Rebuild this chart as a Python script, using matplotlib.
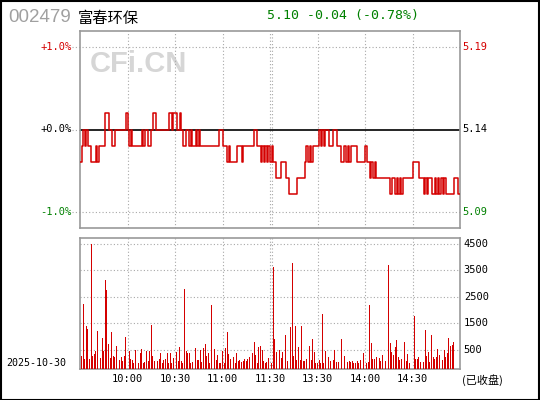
import matplotlib
matplotlib.use("Agg")
import matplotlib.pyplot as plt
import matplotlib.transforms as mtransforms
from matplotlib.patches import Rectangle

# 基本信息
code = "002479"
name = "富春环保"
prev_close = 5.14
quote = "5.10 -0.04 (-0.78%)"
date = "2025-10-30"
status = "(已收盘)"

# 分时价格 (9:30-11:30, 13:01-15:00)
prices = [
    5.12, 5.13, 5.14, 5.13, 5.14, 5.13, 5.13, 5.12, 5.12, 5.12,
    5.13, 5.12, 5.13, 5.13, 5.13, 5.13, 5.15, 5.15, 5.14, 5.14,
    5.13, 5.13, 5.14, 5.14, 5.14, 5.14, 5.14, 5.14, 5.14, 5.15,
    5.14, 5.13, 5.14, 5.13, 5.13, 5.13, 5.13, 5.13, 5.13, 5.14,
    5.13, 5.14, 5.14, 5.13, 5.13, 5.14, 5.15, 5.15, 5.14, 5.14,
    5.14, 5.14, 5.14, 5.14, 5.14, 5.14, 5.15, 5.15, 5.14, 5.15,
    5.15, 5.14, 5.14, 5.15, 5.14, 5.13, 5.13, 5.14, 5.14, 5.13,
    5.14, 5.13, 5.13, 5.14, 5.13, 5.14, 5.13, 5.13, 5.13, 5.13,
    5.13, 5.13, 5.13, 5.13, 5.13, 5.13, 5.13, 5.13, 5.14, 5.14,
    5.13, 5.13, 5.13, 5.12, 5.13, 5.12, 5.12, 5.12, 5.12, 5.13,
    5.13, 5.13, 5.12, 5.13, 5.13, 5.13, 5.13, 5.13, 5.13, 5.13,
    5.14, 5.14, 5.13, 5.13, 5.12, 5.13, 5.12, 5.13, 5.12, 5.13,
    5.12, 5.13, 5.12, 5.12, 5.11, 5.11, 5.11, 5.12, 5.12, 5.12,
    5.11, 5.11, 5.10, 5.10, 5.10, 5.10, 5.10, 5.11, 5.11, 5.11,
    5.11, 5.11, 5.12, 5.13, 5.12, 5.13, 5.12, 5.13, 5.13, 5.13,
    5.13, 5.14, 5.13, 5.14, 5.13, 5.14, 5.14, 5.13, 5.13, 5.13,
    5.14, 5.14, 5.13, 5.13, 5.13, 5.12, 5.12, 5.13, 5.12, 5.13,
    5.12, 5.13, 5.13, 5.13, 5.13, 5.12, 5.12, 5.12, 5.12, 5.12,
    5.13, 5.12, 5.12, 5.11, 5.12, 5.11, 5.12, 5.11, 5.11, 5.11,
    5.11, 5.11, 5.11, 5.11, 5.11, 5.11, 5.10, 5.11, 5.11, 5.10,
    5.11, 5.10, 5.11, 5.10, 5.11, 5.11, 5.11, 5.11, 5.11, 5.11,
    5.12, 5.12, 5.12, 5.12, 5.11, 5.11, 5.11, 5.10, 5.11, 5.10,
    5.11, 5.11, 5.10, 5.10, 5.11, 5.10, 5.11, 5.10, 5.11, 5.10,
    5.11, 5.10, 5.10, 5.10, 5.10, 5.10, 5.11, 5.11, 5.11, 5.10,
    5.10,
]

# 分时成交量 (手), 0 = 无成交柱
volumes = [
    0, 286, 2249, 173, 1418, 1305, 173, 4500, 286, 362,
    475, 1230, 97, 211, 965, 475, 3154, 2777, 739, 211,
    1192, 286, 248, 664, 815, 135, 248, 97, 286, 1003,
    0, 475, 173, 135, 22, 513, 513, 22, 400, 550,
    22, 60, 475, 97, 475, 1456, 286, 97, 362, 97,
    173, 400, 22, 135, 173, 400, 22, 400, 22, 211,
    475, 437, 97, 626, 97, 22, 2815, 475, 400, 400,
    22, 60, 437, 588, 135, 135, 513, 60, 588, 739,
    286, 400, 22, 2211, 513, 550, 135, 324, 22, 22,
    475, 22, 588, 1192, 362, 173, 173, 248, 22, 400,
    97, 135, 60, 97, 173, 97, 173, 248, 324, 400,
    815, 324, 22, 626, 664, 513, 97, 22, 60, 211,
    664, 22, 3645, 928, 437, 0, 513, 211, 437, 0,
    1079, 97, 1230, 1380, 3796, 286, 1418, 135, 626, 135,
    1418, 97, 97, 173, 1531, 664, 135, 928, 437, 22,
    22, 135, 22, 1871, 22, 475, 97, 248, 97, 0,
    135, 513, 60, 60, 0, 928, 0, 286, 135, 60,
    97, 60, 97, 22, 22, 97, 22, 135, 0, 400,
    400, 22, 60, 2211, 777, 173, 173, 248, 0, 211,
    97, 324, 475, 97, 0, 3720, 777, 437, 324, 626,
    890, 248, 135, 173, 0, 815, 97, 362, 22, 0,
    0, 1796, 173, 173, 248, 60, 1682, 60, 1267, 286,
    437, 60, 1079, 248, 173, 248, 550, 324, 135, 135,
    513, 248, 400, 965, 664, 701, 815, 0, 0, 0,
    400,
]

time_ticks = [30, 60, 90, 120, 150, 180, 210]
time_labels = ["10:00", "10:30", "11:00", "11:30", "13:30", "14:00", "14:30"]
pct_levels = [1.0, 0.0, -1.0]
pct_labels = ["+1.0%", "+0.0%", "-1.0%"]
price_labels = ["5.19", "5.14", "5.09"]
level_colors = ["#d40000", "black", "#008000"]
vol_ticks = [500, 1500, 2500, 3500, 4500]

RED = "#d40000"
GRID = "#a8a8a8"
SPINE = "#999999"
MONO = "DejaVu Sans Mono"
CJK = ["Noto Sans CJK SC", "DejaVu Sans"]

pct = [(p / prev_close - 1) * 100 for p in prices]
minutes = list(range(len(prices)))
vol_base = -220

fig = plt.figure(figsize=(5.4, 4.0), dpi=100)
fig.patch.set_facecolor("white")
fig.patches.append(Rectangle((0.001, 0.001), 0.997, 0.997, transform=fig.transFigure,
                             fill=False, edgecolor="black", linewidth=1.5))

ax1 = fig.add_axes([80 / 540, 172 / 400, 380 / 540, 197 / 400])
ax2 = fig.add_axes([80 / 540, 31 / 400, 380 / 540, 131 / 400])

dotted = (0, (1, 2))
grid_lines = time_ticks[:4] + [121.2] + time_ticks[4:]

for ax in (ax1, ax2):
    ax.set_xlim(0, 240)
    ax.set_xticks([])
    ax.set_yticks([])
    for s in ax.spines.values():
        s.set_color(SPINE)
        s.set_linewidth(1.2)
    for g in grid_lines:
        ax.axvline(g, color=GRID, lw=0.8, ls=dotted, zorder=1)

# 价格走势
ax1.set_ylim(-1.194, 1.194)
for lv in [1.0, -1.0]:
    ax1.axhline(lv, xmin=-0.02, xmax=1, color=GRID, lw=0.8, ls=dotted, clip_on=False, zorder=1)
ax1.axhline(0, xmin=-0.02, xmax=0, color=GRID, lw=0.8, ls=dotted, clip_on=False)
ax1.axhline(0, color="black", lw=1.2, zorder=2)
ax1.plot(minutes, pct, color=RED, lw=1.1, drawstyle="steps-post", zorder=3)

tr1 = mtransforms.blended_transform_factory(ax1.transAxes, ax1.transData)
for lv, pl, prl, c in zip(pct_levels, pct_labels, price_labels, level_colors):
    ax1.text(-0.022, lv, pl, transform=tr1, ha="right", va="center",
             color=c, fontsize=7.5, family=MONO)
    ax1.text(1.005, lv, prl, transform=tr1, ha="left", va="center",
             color=c, fontsize=7.5, family=MONO)

ax1.text(0.026, 0.83, "CFi.CN", transform=ax1.transAxes, ha="left", va="center",
         color="#d6d6d6", fontsize=21, fontweight="bold", family="Liberation Sans", zorder=0)

# 成交量
ax2.set_ylim(vol_base, 4727)
for v in vol_ticks:
    ax2.axhline(v, color=GRID, lw=0.8, ls=dotted, zorder=1)
bx = [m for m, v in zip(minutes, volumes) if v > 0]
bh = [v - vol_base for v in volumes if v > 0]
ax2.bar(bx, bh, bottom=vol_base, width=0.62, color=RED, linewidth=0, zorder=3)

tr2 = mtransforms.blended_transform_factory(ax2.transAxes, ax2.transData)
for v in vol_ticks:
    ax2.text(1.01, v, str(v), transform=tr2, ha="left", va="center",
             color="black", fontsize=7.5, family=MONO)

tr2x = mtransforms.blended_transform_factory(ax2.transData, ax2.transAxes)
for t, lab in zip(time_ticks, time_labels):
    ax2.text(t, -0.04, lab, transform=tr2x, ha="center", va="top",
             color="black", fontsize=7.5, family=MONO)

# 标题和其他文字
fig.text(8 / 540, 1 - 18 / 400, code, ha="left", va="center", color="#a0a0a0",
         fontsize=13.5, family="Liberation Sans")
fig.text(78 / 540, 1 - 18 / 400, name, ha="left", va="center", color="black",
         fontsize=11, family=CJK)
fig.text(267 / 540, 1 - 16 / 400, quote, ha="left", va="center", color="#008000",
         fontsize=9.5, family=MONO)
fig.text(6 / 540, 1 - 363 / 400, date, ha="left", va="center", color="black",
         fontsize=7.2, family=MONO)
fig.text(462 / 540, 1 - 380 / 400, status, ha="left", va="center", color="black",
         fontsize=8, family=CJK)

fig.savefig("out.png", dpi=100, facecolor="white")
